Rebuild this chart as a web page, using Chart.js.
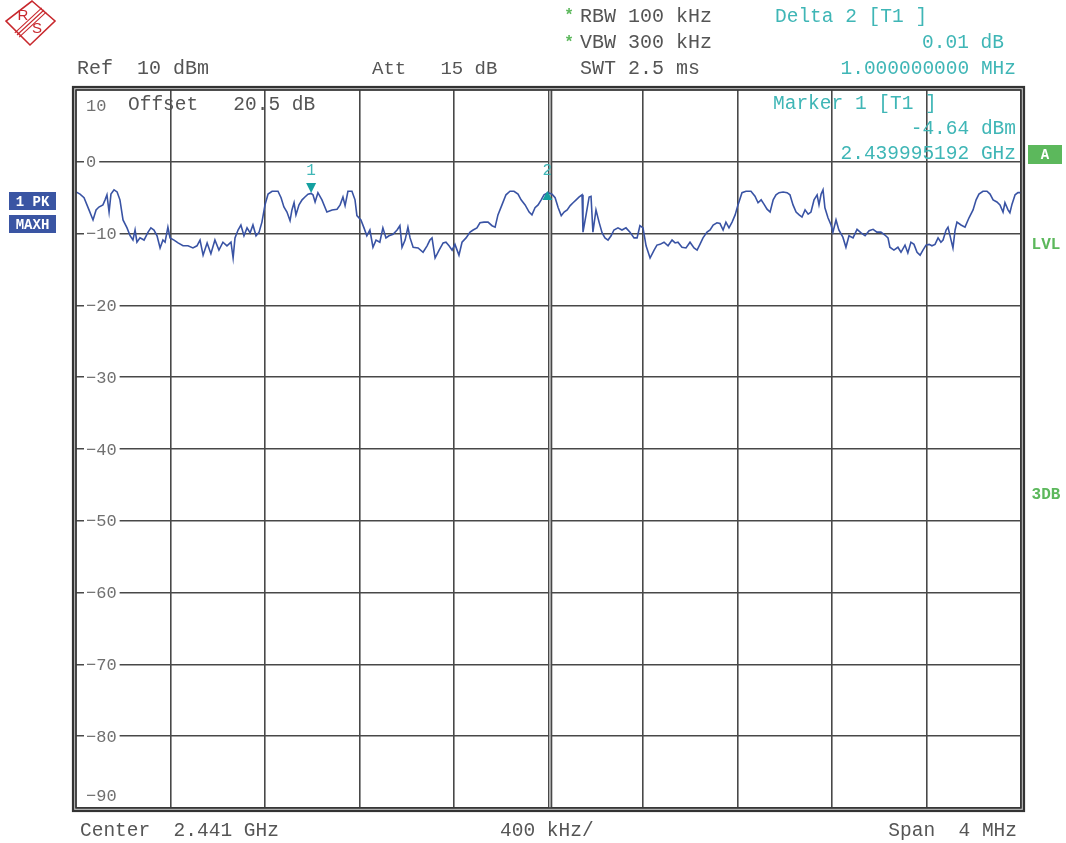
<!DOCTYPE html>
<html>
<head>
<meta charset="utf-8">
<script src="https://cdn.jsdelivr.net/npm/chart.js@4"></script>
<style>
  html, body { margin: 0; padding: 0; background: #fff; }
  canvas { display: block; }
</style>
</head>
<body>
<canvas id="spectrum" width="1066" height="843"></canvas>
<script>
// sweep 2.439 .. 2.443 GHz, values in MHz / dBm
const spanMHz = [2439, 2443];
const levelRange = [-90, 10];
const yTickValues = [10, 0, -10, -20, -30, -40, -50, -60, -70, -80, -90];

const trace = [
  [2439.000,-4.2],[2439.017,-4.5],[2439.034,-5.0],[2439.055,-6.7],[2439.072,-8.1],[2439.085,-6.7],[2439.097,-6.3],
  [2439.114,-6.0],[2439.123,-5.3],[2439.131,-4.6],[2439.140,-7.0],[2439.148,-4.5],[2439.161,-3.9],[2439.174,-4.2],
  [2439.186,-5.3],[2439.199,-8.1],[2439.216,-9.2],[2439.229,-10.3],[2439.241,-10.9],[2439.250,-9.5],[2439.258,-11.2],
  [2439.271,-10.6],[2439.288,-10.9],[2439.305,-9.8],[2439.317,-9.2],[2439.330,-9.5],[2439.343,-10.3],[2439.356,-12.0],
  [2439.368,-10.9],[2439.377,-11.2],[2439.389,-9.1],[2439.398,-10.6],[2439.415,-10.9],[2439.432,-11.3],[2439.453,-11.7],
  [2439.474,-11.7],[2439.495,-12.0],[2439.512,-11.7],[2439.525,-10.9],[2439.538,-13.0],[2439.555,-11.3],[2439.571,-12.8],
  [2439.588,-10.9],[2439.605,-12.3],[2439.622,-11.2],[2439.639,-11.7],[2439.656,-11.2],[2439.665,-13.4],[2439.673,-10.6],
  [2439.686,-9.5],[2439.698,-8.8],[2439.711,-10.3],[2439.724,-9.2],[2439.737,-9.9],[2439.749,-8.8],[2439.762,-10.3],
  [2439.775,-9.8],[2439.787,-8.4],[2439.800,-6.0],[2439.813,-4.5],[2439.830,-4.1],[2439.855,-4.1],[2439.868,-5.0],
  [2439.880,-6.3],[2439.893,-7.0],[2439.906,-8.2],[2439.914,-6.7],[2439.923,-5.7],[2439.931,-7.4],[2439.944,-6.0],
  [2439.957,-5.3],[2439.969,-4.9],[2439.982,-4.5],[2439.995,-4.4],[2440.003,-4.6],[2440.012,-5.6],[2440.024,-4.3],
  [2440.041,-5.3],[2440.062,-7.0],[2440.084,-6.7],[2440.105,-6.6],[2440.118,-6.0],[2440.130,-4.9],[2440.139,-6.1],
  [2440.151,-4.1],[2440.168,-4.1],[2440.181,-5.3],[2440.189,-7.5],[2440.206,-8.1],[2440.219,-9.2],[2440.231,-10.3],
  [2440.244,-9.5],[2440.257,-11.9],[2440.270,-10.9],[2440.286,-11.2],[2440.299,-9.2],[2440.312,-10.6],[2440.325,-10.3],
  [2440.342,-10.1],[2440.359,-9.5],[2440.371,-8.9],[2440.380,-11.9],[2440.393,-10.9],[2440.405,-9.1],[2440.414,-10.6],
  [2440.427,-11.9],[2440.448,-12.0],[2440.469,-12.6],[2440.486,-11.7],[2440.498,-10.9],[2440.507,-10.6],[2440.520,-13.4],
  [2440.537,-12.3],[2440.554,-11.3],[2440.566,-11.2],[2440.579,-11.7],[2440.592,-12.3],[2440.604,-11.5],[2440.621,-13.0],
  [2440.634,-11.2],[2440.651,-10.6],[2440.668,-9.8],[2440.681,-9.5],[2440.697,-9.2],[2440.710,-8.5],[2440.727,-8.4],
  [2440.744,-8.4],[2440.761,-8.9],[2440.774,-9.1],[2440.786,-7.4],[2440.803,-6.0],[2440.820,-4.6],[2440.837,-4.1],
  [2440.854,-4.1],[2440.871,-4.5],[2440.884,-5.3],[2440.901,-6.0],[2440.918,-7.0],[2440.930,-7.4],[2440.943,-6.4],
  [2440.956,-6.0],[2440.969,-5.3],[2440.981,-4.6],[2440.998,-4.3],[2441.015,-4.5],[2441.028,-5.0],[2441.041,-6.4],
  [2441.054,-7.5],[2441.066,-7.0],[2441.079,-6.7],[2441.092,-6.1],[2441.104,-5.7],[2441.117,-5.3],[2441.130,-4.9],
  [2441.142,-4.6],[2441.146,-9.8],[2441.159,-7.4],[2441.172,-4.9],[2441.180,-4.8],[2441.188,-9.8],[2441.201,-6.7],
  [2441.214,-8.4],[2441.227,-9.9],[2441.239,-10.6],[2441.252,-10.9],[2441.265,-10.3],[2441.277,-9.5],[2441.294,-9.2],
  [2441.311,-9.5],[2441.328,-9.2],[2441.345,-9.8],[2441.362,-10.6],[2441.375,-10.6],[2441.387,-8.9],[2441.400,-9.2],
  [2441.413,-11.7],[2441.430,-13.4],[2441.447,-12.3],[2441.459,-11.6],[2441.472,-11.5],[2441.489,-11.2],[2441.506,-11.7],
  [2441.523,-10.9],[2441.536,-11.3],[2441.548,-11.2],[2441.565,-11.9],[2441.582,-12.0],[2441.599,-11.2],[2441.616,-12.0],
  [2441.629,-12.3],[2441.641,-11.5],[2441.654,-10.6],[2441.671,-9.8],[2441.684,-9.5],[2441.697,-8.8],[2441.713,-8.5],
  [2441.726,-8.6],[2441.739,-9.5],[2441.751,-8.4],[2441.764,-9.2],[2441.777,-8.4],[2441.790,-7.4],[2441.802,-6.0],
  [2441.819,-4.3],[2441.836,-4.1],[2441.857,-4.1],[2441.874,-4.8],[2441.887,-5.7],[2441.900,-5.3],[2441.912,-5.9],
  [2441.925,-6.6],[2441.938,-7.0],[2441.951,-5.3],[2441.963,-4.6],[2441.976,-4.3],[2441.993,-4.2],[2442.010,-4.3],
  [2442.022,-4.6],[2442.035,-6.0],[2442.048,-7.0],[2442.061,-7.4],[2442.073,-7.7],[2442.086,-6.7],[2442.099,-7.3],
  [2442.111,-7.0],[2442.124,-5.3],[2442.137,-4.6],[2442.145,-6.0],[2442.154,-4.5],[2442.162,-3.9],[2442.170,-6.4],
  [2442.183,-7.8],[2442.196,-8.8],[2442.204,-9.8],[2442.217,-8.1],[2442.229,-9.5],[2442.246,-10.5],[2442.259,-11.9],
  [2442.272,-10.3],[2442.289,-10.6],[2442.306,-9.4],[2442.323,-9.9],[2442.340,-10.3],[2442.357,-9.6],[2442.374,-9.4],
  [2442.390,-9.8],[2442.407,-9.8],[2442.424,-10.2],[2442.437,-10.6],[2442.445,-11.9],[2442.462,-12.3],[2442.479,-11.9],
  [2442.492,-12.6],[2442.509,-11.6],[2442.521,-12.7],[2442.534,-11.2],[2442.547,-11.5],[2442.560,-12.6],[2442.573,-13.0],
  [2442.585,-12.3],[2442.598,-11.6],[2442.611,-11.5],[2442.623,-11.7],[2442.636,-11.5],[2442.649,-10.6],[2442.661,-11.2],
  [2442.670,-10.9],[2442.683,-9.5],[2442.691,-9.1],[2442.704,-10.9],[2442.712,-12.0],[2442.721,-9.5],[2442.729,-8.4],
  [2442.746,-8.8],[2442.763,-9.1],[2442.780,-7.8],[2442.797,-6.7],[2442.810,-5.3],[2442.822,-4.5],[2442.839,-4.1],
  [2442.856,-4.1],[2442.869,-4.5],[2442.882,-5.3],[2442.898,-5.6],[2442.911,-6.0],[2442.924,-7.0],[2442.932,-5.7],
  [2442.945,-6.7],[2442.953,-7.1],[2442.962,-5.9],[2442.975,-4.6],[2442.987,-4.3],[2443.000,-4.3]
];

const markerNames = ["1", "2"];
const markerFreqMHz = [2439.995192, 2440.995192];
const markerLevelDbm = [-4.64, -4.63];

const MONO = '"Liberation Mono", "DejaVu Sans Mono", monospace';
const GREY = "#555";
const CYAN = "#3fb6b6";
const GREEN = "#5cb85c";
const BLUE = "#3a55a3";
const GRID = "#484848";

function txt(ctx, s, x, y, color, size, align, bold) {
  ctx.font = (bold ? "bold " : "") + size + "px " + MONO;
  ctx.fillStyle = color;
  ctx.textAlign = align || "left";
  ctx.textBaseline = "middle";
  ctx.fillText(s, x, y);
}

function box(ctx, s, x, y, w, h, bg) {
  ctx.fillStyle = bg;
  ctx.fillRect(x, y, w, h);
  txt(ctx, s, x + w / 2, y + h / 2 + 1, "#fff", 14, "center", true);
}

function drawLogo(ctx) {
  ctx.save();
  ctx.strokeStyle = "#c8282d";
  ctx.fillStyle = "#c8282d";
  ctx.lineWidth = 1.6;
  ctx.beginPath();
  ctx.moveTo(32, 1);
  ctx.lineTo(55, 21);
  ctx.lineTo(30, 45);
  ctx.lineTo(6, 21);
  ctx.closePath();
  ctx.stroke();
  ctx.lineWidth = 1.1;
  for (const d of [-2.2, 0, 2.2]) {
    ctx.beginPath();
    ctx.moveTo(17 + d, 35 + d);
    ctx.lineTo(44 + d, 10 + d);
    ctx.stroke();
  }
  ctx.font = '15px "Liberation Sans", sans-serif';
  ctx.textAlign = "center";
  ctx.textBaseline = "middle";
  ctx.fillText("R", 23, 16);
  ctx.fillText("S", 37, 29);
  ctx.restore();
}

const decor = {
  id: "decor",
  beforeDraw(chart) {
    const ctx = chart.ctx;
    ctx.save();
    ctx.fillStyle = "#fff";
    ctx.fillRect(0, 0, chart.width, chart.height);
    ctx.restore();
  },
  beforeDatasetsDraw(chart) {
    const ctx = chart.ctx;
    const a = chart.chartArea;
    const ys = chart.scales.y;
    const xs = chart.scales.x;
    ctx.save();
    // double centre line
    const cx = xs.getPixelForValue((spanMHz[0] + spanMHz[1]) / 2);
    ctx.fillStyle = "#c4c4c4";
    ctx.fillRect(cx + 0.8, a.top, 1.6, a.bottom - a.top);
    ctx.strokeStyle = GRID;
    ctx.lineWidth = 1.6;
    ctx.beginPath();
    ctx.moveTo(cx + 3, a.top);
    ctx.lineTo(cx + 3, a.bottom);
    ctx.stroke();
    // level labels sit inside the grid
    ctx.font = "17px " + MONO;
    ctx.textBaseline = "middle";
    ctx.textAlign = "left";
    for (const v of yTickValues) {
      let py = ys.getPixelForValue(v);
      if (v === levelRange[1]) py += 15;
      if (v === levelRange[0]) py -= 13;
      const s = v < 0 ? "\u2212" + Math.abs(v) : String(v);
      const w = ctx.measureText(s).width;
      ctx.fillStyle = "#fff";
      ctx.fillRect(a.left + 8, py - 8, w + 5, 16);
      ctx.fillStyle = "#707070";
      ctx.fillText(s, a.left + 10, py + 1);
    }
    txt(ctx, "Offset   20.5 dB", 128, a.top + 15, GREY, 19.5);
    ctx.restore();
  },
  afterDraw(chart) {
    const ctx = chart.ctx;
    const a = chart.chartArea;
    const xs = chart.scales.x;
    const ys = chart.scales.y;
    ctx.save();
    // frame
    ctx.strokeStyle = "#bbb";
    ctx.lineWidth = 2;
    ctx.strokeRect(a.left - 1.5, a.top - 1.5, a.right - a.left + 3, a.bottom - a.top + 3);
    ctx.strokeStyle = "#333";
    ctx.lineWidth = 1.5;
    ctx.strokeRect(a.left, a.top, a.right - a.left, a.bottom - a.top);
    ctx.lineWidth = 2.2;
    ctx.strokeRect(a.left - 3, a.top - 3, a.right - a.left + 6, a.bottom - a.top + 6);

    // markers
    markerFreqMHz.forEach((f, i) => {
      const px = xs.getPixelForValue(f);
      const py = ys.getPixelForValue(markerLevelDbm[i]);
      ctx.fillStyle = "#14a0a0";
      ctx.beginPath();
      if (i === 0) {
        ctx.moveTo(px - 5, py - 12);
        ctx.lineTo(px + 5, py - 12);
        ctx.lineTo(px, py - 2);
      } else {
        ctx.moveTo(px, py - 4);
        ctx.lineTo(px + 5, py + 5);
        ctx.lineTo(px - 5, py + 5);
      }
      ctx.closePath();
      ctx.fill();
      txt(ctx, markerNames[i], px, py - 24, CYAN, 16, "center");
    });

    // header
    drawLogo(ctx);
    txt(ctx, "*", 569, 16, GREEN, 16, "center", true);
    txt(ctx, "*", 569, 43, GREEN, 16, "center", true);
    txt(ctx, "RBW 100 kHz", 580, 17, GREY, 20);
    txt(ctx, "VBW 300 kHz", 580, 43, GREY, 20);
    txt(ctx, "Ref  10 dBm", 77, 69, GREY, 20);
    txt(ctx, "Att   15 dB", 372, 69, GREY, 19);
    txt(ctx, "SWT 2.5 ms", 580, 69, GREY, 20);
    txt(ctx, "Delta 2 [T1 ]", 775, 17, CYAN, 19.5);
    txt(ctx, "0.01 dB", 1004, 43, CYAN, 19.5, "right");
    txt(ctx, "1.000000000 MHz", 1016, 69, CYAN, 19.5, "right");
    txt(ctx, "Marker 1 [T1 ]", 773, 104, CYAN, 19.5);
    txt(ctx, "-4.64 dBm", 1016, 129, CYAN, 19.5, "right");
    txt(ctx, "2.439995192 GHz", 1016, 154, CYAN, 19.5, "right");

    // footer
    txt(ctx, "Center  2.441 GHz", 80, 831, GREY, 19.5);
    txt(ctx, "400 kHz/", 500, 831, GREY, 19.5);
    txt(ctx, "Span  4 MHz", 1017, 831, GREY, 19.5, "right");

    // side annotations
    box(ctx, "1 PK", 9, 192, 47, 18, BLUE);
    box(ctx, "MAXH", 9, 215, 47, 18, BLUE);
    box(ctx, "A", 1028, 145, 34, 19, GREEN);
    txt(ctx, "LVL", 1046, 245, GREEN, 16, "center", true);
    txt(ctx, "3DB", 1046, 495, GREEN, 16, "center", true);
    ctx.restore();
  }
};

const gridStyle = { color: GRID, lineWidth: 1.6, drawTicks: false };

new Chart(document.getElementById("spectrum"), {
  type: "line",
  data: {
    datasets: [
      {
        label: "Trace 1",
        data: trace.map(([f, l]) => ({ x: f, y: l })),
        borderColor: "#3953a4",
        borderWidth: 1.6,
        pointRadius: 0,
        tension: 0,
        fill: false,
      },
    ],
  },
  options: {
    responsive: false,
    animation: false,
    devicePixelRatio: 1,
    layout: { padding: { left: 76, top: 90, right: 45, bottom: 35 } },
    plugins: { legend: { display: false }, tooltip: { enabled: false } },
    scales: {
      x: {
        type: "linear",
        min: spanMHz[0],
        max: spanMHz[1],
        ticks: { display: false, stepSize: 0.4 },
        grid: gridStyle,
        border: { display: false },
        afterFit(s) { s.height = 0; },
      },
      y: {
        type: "linear",
        min: levelRange[0],
        max: levelRange[1],
        ticks: { display: false, stepSize: 10 },
        grid: gridStyle,
        border: { display: false },
        afterFit(s) { s.width = 0; },
      },
    },
  },
  plugins: [decor],
});
</script>
</body>
</html>
